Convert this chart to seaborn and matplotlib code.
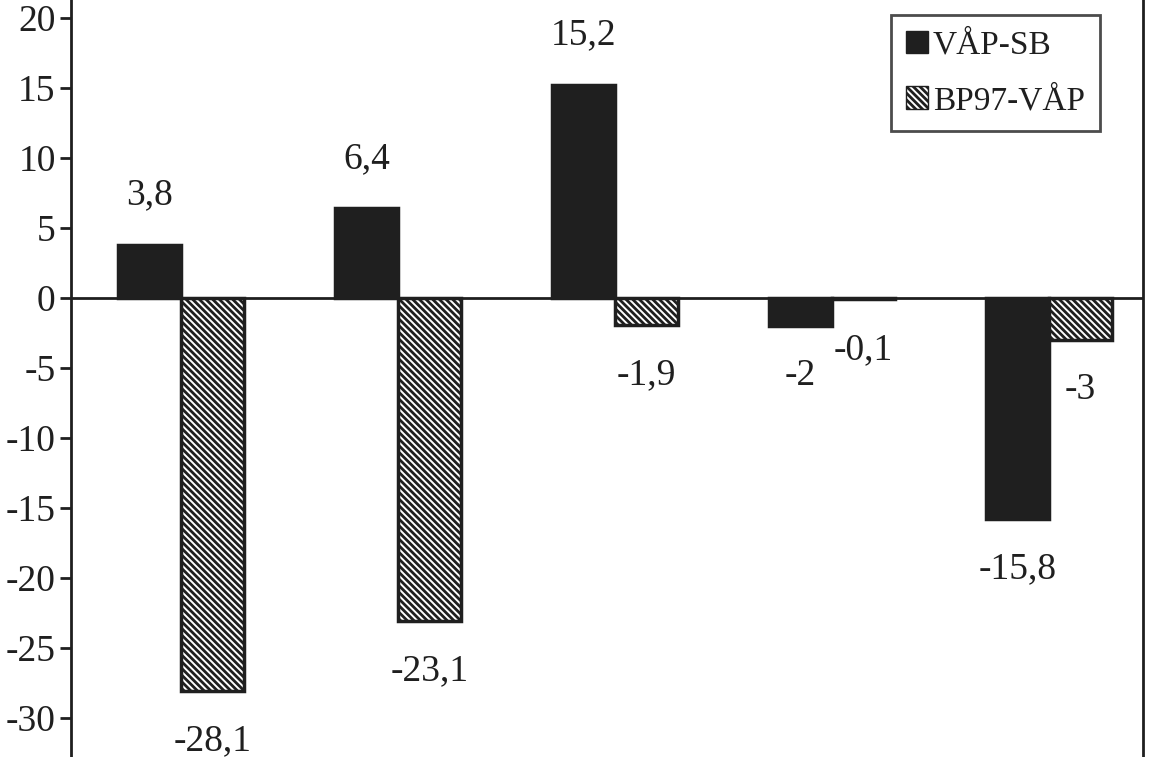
import pandas as pd
import numpy as np
import matplotlib
matplotlib.use('Agg')
import matplotlib.pyplot as plt
import seaborn as sns
from matplotlib.patches import Patch

# ── Data ──────────────────────────────────────────────
groups = ['1', '2', '3', '4', '5']
series = ['VÅP-SB', 'BP97-VÅP']
vap_sb = [3.8, 6.4, 15.2, -2.0, -15.8]
bp97_vap = [-28.1, -23.1, -1.9, -0.1, -3.0]
y_ticks = [-30, -25, -20, -15, -10, -5, 0, 5, 10, 15, 20]

df = pd.DataFrame({
    'group': groups * 2,
    'series': [series[0]] * 5 + [series[1]] * 5,
    'value': vap_sb + bp97_vap,
})

# ── Settings ──────────────────────────────────────────
sns.set_theme(style='white')
plt.rcParams['font.family'] = ['Liberation Serif', 'DejaVu Serif']
plt.rcParams['axes.unicode_minus'] = False
plt.rcParams['hatch.linewidth'] = 2.0
dark = '#1f1f1f'
hatch = '\\' * 5

fig = plt.figure(figsize=(11.56, 7.57), dpi=100)
ax = fig.add_axes([71 / 1156, 0, 1072 / 1156, 1])

sns.barplot(data=df, x='group', y='value', hue='series', order=groups,
            hue_order=series, palette=[dark, 'white'], width=0.58,
            gap=0, edgecolor=dark, linewidth=2.5, saturation=1,
            legend=False, ax=ax)

# hatch the second series
for bar in ax.containers[1]:
    bar.set_hatch(hatch)
    bar.set_edgecolor(dark)

# value labels
for cont in ax.containers:
    for bar in cont:
        h = bar.get_height()
        txt = f'{h:g}'.replace('.', ',')
        xc = bar.get_x() + bar.get_width() / 2
        off = 36 if h >= 0 else -36
        ax.annotate(txt, (xc, h), xytext=(0, off), textcoords='offset points',
                    ha='center', va='center', fontsize=27, color=dark)

ax.axhline(0, color=dark, lw=2, zorder=1)
ax.set_ylim(-32.8, 21.3)
ax.set_xlim(-0.507, 4.433)
ax.set_yticks(y_ticks)
ax.tick_params(axis='y', left=True, direction='out', length=8, width=2,
               color=dark, labelsize=27, labelcolor=dark, pad=3)
ax.set_xticks([])
ax.set_xlabel('')
ax.set_ylabel('')
for s in ['top', 'bottom']:
    ax.spines[s].set_visible(False)
for s in ['left', 'right']:
    ax.spines[s].set_color(dark)
    ax.spines[s].set_linewidth(2)

handles = [Patch(facecolor=dark, edgecolor=dark, label=series[0]),
           Patch(facecolor='white', edgecolor=dark, hatch=hatch, label=series[1])]
leg = ax.legend(handles=handles, loc='upper right',
                bbox_to_anchor=(1100 / 1156, 1 - 15 / 757),
                bbox_transform=fig.transFigure, fontsize=24, frameon=True,
                fancybox=False, edgecolor=dark, handlelength=0.66,
                handleheight=0.66, handletextpad=0.15, borderpad=0.45,
                labelspacing=0.75, borderaxespad=0)
leg.get_frame().set_linewidth(2)
for t in leg.get_texts():
    t.set_color(dark)

fig.savefig('out.png', dpi=100)
